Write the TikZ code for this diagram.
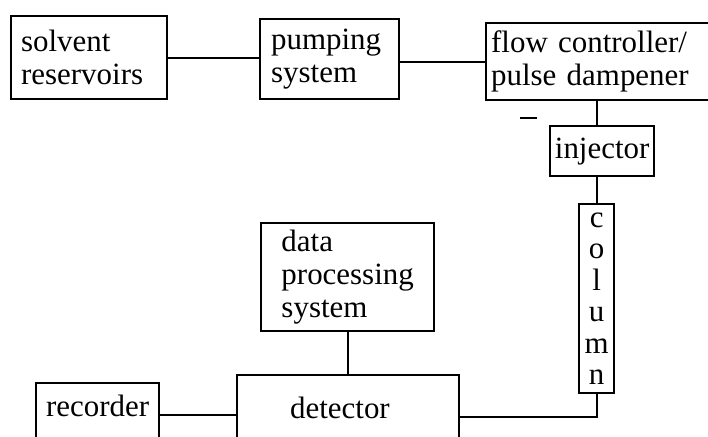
\documentclass[tikz,border=0pt]{standalone}
\usepackage{fontspec}
\setmainfont{Liberation Serif}
\usepackage{tikz}
\usetikzlibrary{positioning}

\begin{document}
\begin{tikzpicture}[
    x=0.025cm, y=-0.025cm,
    every node/.style={font=\fontsize{22}{23.5}\selectfont},
    box/.style={draw, rectangle, line width=1.6pt, anchor=north west},
    cutbox/.style={box, inner ysep=0pt, text depth=2.5cm},
    pipe/.style={line width=1.6pt}
]

   % Page area
   \clip (0,0) rectangle (708,436);
   \fill[white] (0,0) rectangle (708,436);

   % Solvent delivery
   \node[box, minimum width=3.9cm, minimum height=2.075cm, text width=3.4cm, inner xsep=0.25cm, align=left] (solv) at (10,15) {solvent\\reservoirs};
   \node[box, minimum width=3.475cm, minimum height=2cm, text width=2.925cm, inner xsep=0.275cm, align=left] (pump) at (259,18) {pumping\\system};
   \node[box, minimum width=5.875cm, minimum height=1.925cm, text width=5.625cm, inner xsep=0.125cm, align=left] (flow) at (485,22) {flow controller/\\pulse dampener};

   % Injector and column
   \node[box, minimum width=2.6cm, minimum height=1.25cm, inner sep=0pt] (inj) at (549,125) {injector};
   \node[box, minimum width=0.875cm, minimum height=4.725cm, inner sep=0pt, align=center, font=\fontsize{22}{22.4}\selectfont] (col) at (578,203) {c\\o\\l\\u\\m\\n};

   % Detection and output
   \node[box, minimum width=4.325cm, minimum height=2.7cm, align=left] (data) at (260,222) {data\\processing\\system};
   \node[cutbox, minimum width=5.55cm, text height=1.075cm, text width=2.9cm, inner xsep=1.325cm, align=left] (det) at (236,374) {detector};
   \node[cutbox, minimum width=3.075cm, text height=0.825cm, text width=2.575cm, inner xsep=0.25cm, align=left] (rec) at (35,382) {recorder};

   % Connections
   \draw[pipe] (solv.east) -- (solv.east -| pump.west);
   \draw[pipe] (flow.west) -- (flow.west -| pump.east);
   \draw[pipe] (col.north |- flow.south) -- (col.north |- inj.north);
   \draw[pipe] (col.north |- inj.south) -- (col.north);
   \draw[pipe] (col.south) |- ([yshift=-0.05cm]det.mid east);
   \draw[pipe] (data.south) -- (data.south |- det.north);
   \draw[pipe] (det.mid west) -- (det.mid west -| rec.east);

   % small tick left of the injector
   \draw[line width=1.6pt] (520,118) -- (537,118);
\end{tikzpicture}
\end{document}
